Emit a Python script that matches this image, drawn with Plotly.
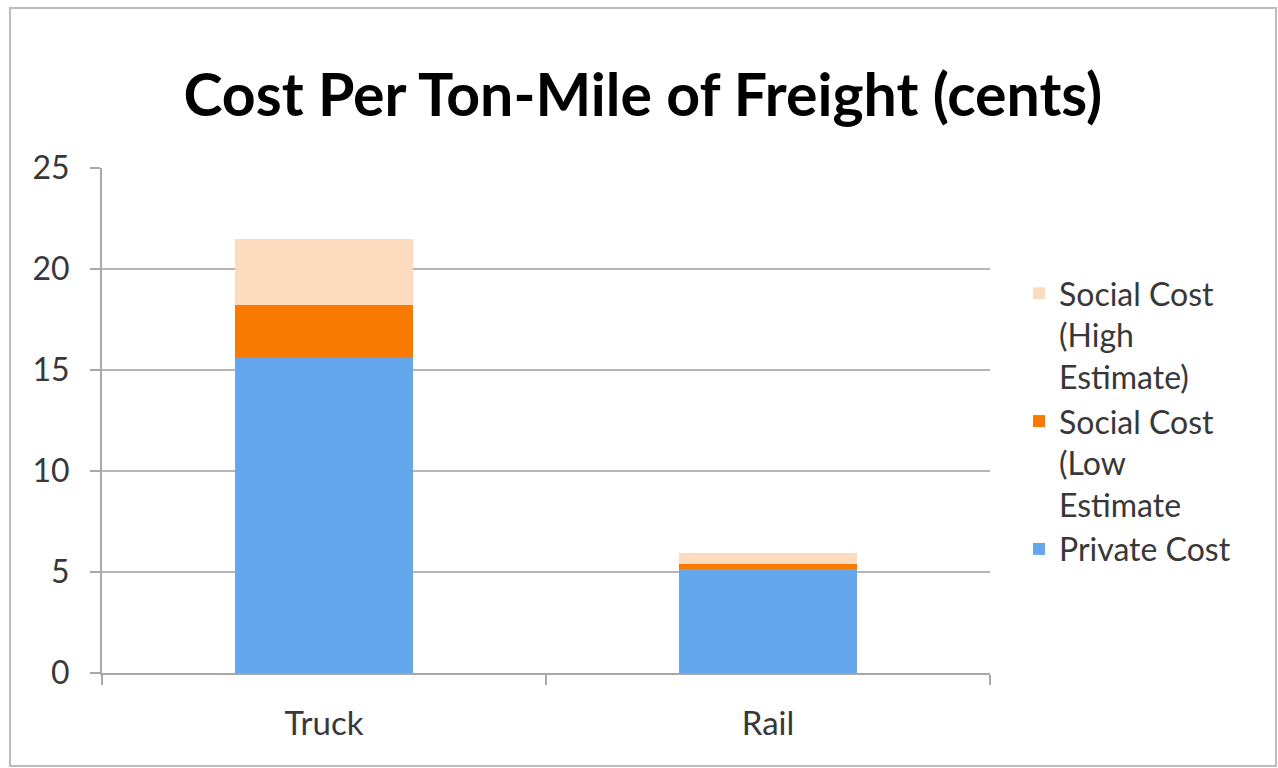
import plotly.graph_objects as go

categories = ["Truck", "Rail"]
private_cost = [15.6, 5.15]
social_low = [2.6, 0.25]
social_high = [3.3, 0.55]

series_names = ["Private Cost", "Social Cost<br>(Low<br>Estimate", "Social Cost<br>(High<br>Estimate)"]
series_colors = ["#64a7ec", "#f97a00", "#fddbbe"]

FONT = "Lato"

fig = go.Figure()
for vals, name, col in zip([private_cost, social_low, social_high], series_names, series_colors):
    fig.add_trace(go.Bar(x=categories, y=vals, name=name, marker=dict(color=col, line=dict(width=0)),
                         width=0.4))

fig.update_layout(
    barmode="stack",
    width=1278, height=768,
    margin=dict(l=102, r=288, t=168, b=95),
    paper_bgcolor="white", plot_bgcolor="white",
    font=dict(family=FONT, color="#383838"),
    title=dict(text="<b>Cost Per Ton-Mile of Freight (cents)</b>", x=0.503, xanchor="center",
               y=1 - 95 / 768, yanchor="middle", font=dict(family=FONT, size=59, color="black")),
    legend=dict(xref="container", yref="container", x=1019 / 1278, y=1 - 266 / 768,
                xanchor="left", yanchor="top", traceorder="reversed", valign="top",
                font=dict(family=FONT, size=32, color="#383838"), bgcolor="rgba(0,0,0,0)",
                itemwidth=30, tracegroupgap=0),
    showlegend=True,
    bargap=0.6,
)
fig.update_yaxes(range=[0, 25], dtick=5, showgrid=True, gridcolor="#b5b5b5", gridwidth=2,
                 showline=True, linecolor="#a8a8a8", linewidth=2, ticks="outside", ticklen=10,
                 tickcolor="#a8a8a8", tickwidth=2, tickfont=dict(size=32, color="#383838"),
                 ticklabelstandoff=14, zeroline=False)
fig.update_xaxes(showline=True, linecolor="#a8a8a8", linewidth=2, ticks="outside", ticklen=10,
                 tickcolor="#a8a8a8", tickwidth=2, tickson="boundaries",
                 tickfont=dict(size=33, color="#383838"), ticklabelstandoff=20)

fig.add_shape(type="rect", xref="paper", yref="paper",
              x0=(10 - 102) / 888, x1=(1276 - 102) / 888,
              y0=(673 - 766) / 505, y1=(673 - 8) / 505,
              line=dict(color="#bcbcbc", width=2), fillcolor="rgba(0,0,0,0)", layer="below")

fig.write_html("out.html")
